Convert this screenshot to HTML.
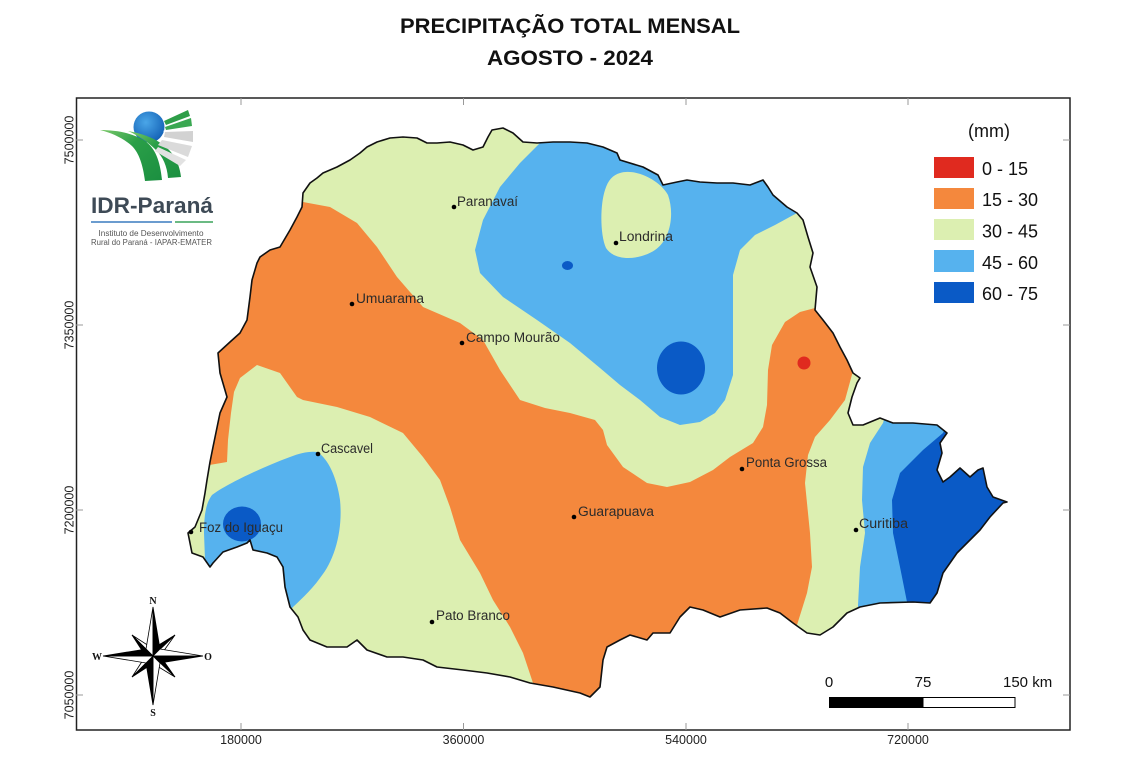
<!DOCTYPE html>
<html><head><meta charset="utf-8">
<style>html,body{margin:0;padding:0;background:#fff}svg{display:block}</style>
</head><body>
<svg width="1140" height="760" viewBox="0 0 1140 760" xmlns="http://www.w3.org/2000/svg" font-family="'Liberation Sans', sans-serif">
<defs>
<clipPath id="st">
<path id="statep" d="M218,353 L230,342 L240,333 L247,320 L250,297 L252,280 L257,263 L260,257 L270,250 L280,247 L290,230 L297,217 L302,207 L303,193 L310,183 L317,178 L323,173 L337,167 L350,160 L360,153 L367,147 L377,142 L390,138 L403,137 L417,138 L427,143 L437,143 L450,142 L463,145 L473,150 L483,147 L488,137 L492,130 L503,128 L513,133 L523,142 L537,143 L553,142 L570,142 L587,143 L603,147 L617,153 L620,160 L643,167 L658,175 L663,185 L677,182 L687,180 L700,182 L717,183 L733,183 L750,185 L763,180 L768,187 L773,195 L787,207 L797,213 L803,220 L808,237 L813,253 L810,267 L817,287 L815,310 L823,320 L833,333 L840,347 L847,360 L853,373 L860,378 L857,383 L852,397 L848,413 L853,425 L863,425 L880,418 L893,423 L913,423 L937,425 L947,433 L940,443 L942,453 L937,470 L943,482 L950,477 L960,468 L970,477 L978,470 L983,468 L987,487 L993,497 L1007,502 L1003,503 L990,517 L980,530 L970,540 L957,553 L943,573 L937,593 L930,603 L913,602 L880,603 L860,607 L847,613 L833,627 L820,635 L807,633 L793,623 L780,613 L767,608 L740,610 L720,617 L703,610 L690,607 L680,617 L670,633 L653,633 L647,640 L630,635 L620,640 L607,647 L603,660 L600,687 L590,697 L580,693 L553,687 L530,683 L510,677 L487,673 L463,670 L437,667 L423,660 L403,657 L387,657 L367,650 L357,640 L347,647 L327,647 L310,640 L303,630 L298,617 L290,607 L285,587 L283,567 L277,557 L267,553 L253,550 L250,540 L247,543 L237,547 L223,552 L213,563 L210,567 L203,557 L192,553 L190,543 L188,533 L195,527 L202,510 L205,493 L207,480 L210,462 L213,447 L220,413 L227,397 L220,373 Z"/>
</clipPath>
<radialGradient id="bg1" cx="0.4" cy="0.35" r="0.7">
<stop offset="0" stop-color="#4aa6e8"/><stop offset="1" stop-color="#1260b4"/>
</radialGradient>
<linearGradient id="gA" x1="0" y1="0" x2="1" y2="1">
<stop offset="0" stop-color="#7cc96a"/><stop offset="0.4" stop-color="#2a9f48"/><stop offset="1" stop-color="#1b8f40"/>
</linearGradient>
</defs>

<!-- Title -->
<text x="570" y="33" text-anchor="middle" font-size="21" font-weight="bold" fill="#111" textLength="340" lengthAdjust="spacingAndGlyphs">PRECIPITAÇÃO TOTAL MENSAL</text>
<text x="570" y="65" text-anchor="middle" font-size="21" font-weight="bold" fill="#111" textLength="166" lengthAdjust="spacingAndGlyphs">AGOSTO - 2024</text>

<!-- Map regions -->
<g clip-path="url(#st)">
<rect x="150" y="100" width="900" height="620" fill="#dcefb1"/>
<path fill="#f4883d" d="M180,190 L290,195 L303,202 L330,207 L357,223 L377,247 L397,277 L423,307 L460,323 L483,340 L500,370 L520,400 L545,408 L570,413 L595,420 L603,430 L607,445 L623,467 L647,483 L667,487 L690,482 L713,470 L730,457 L753,443 L763,427 L767,405 L768,370 L772,345 L785,322 L800,312 L815,308 L840,290 L880,330 L870,360 L853,371 L845,400 L830,420 L815,437 L808,455 L805,483 L810,533 L812,567 L807,593 L797,625 L790,700 L530,720 L533,683 L523,653 L510,627 L493,600 L480,573 L460,540 L450,507 L440,480 L423,457 L403,433 L370,417 L337,407 L303,400 L297,397 L280,373 L257,365 L240,378 L234,392 L231,413 L228,440 L227,462 L180,470 Z"/>
<path fill="#56b2ee" d="M545,110 L540,143 L520,163 L500,187 L483,220 L475,250 L480,273 L503,297 L537,320 L570,343 L600,368 L620,385 L640,400 L660,417 L680,425 L700,422 L715,413 L725,400 L733,375 L733,320 L733,275 L740,250 L755,235 L775,225 L797,213 L830,190 L830,110 Z"/>
<path fill="#dcefb1" d="M620,173 C635,168 660,180 668,195 C675,215 670,240 655,250 C640,260 615,262 606,248 C600,235 600,205 605,190 C608,180 613,175 620,173 Z"/>
<path fill="#56b2ee" d="M317,452 C328,458 337,478 340,500 C343,530 335,560 320,578 C310,592 298,602 290,610 L250,640 L200,600 L205,560 L204,533 C204,515 206,503 212,495 C225,485 260,468 290,457 C300,453 310,451 317,452 Z"/>
<path fill="#56b2ee" d="M890,400 L883,423 L870,443 L863,467 L862,500 L865,533 L860,567 L858,605 L858,650 L1050,650 L1050,400 Z"/>
<path fill="#0a5ac6" d="M955,405 L943,433 L923,450 L900,473 L892,500 L893,533 L900,567 L907,602 L907,650 L1050,650 L1050,405 Z"/>
<ellipse cx="681" cy="368" rx="24" ry="26.5" fill="#0a5ac6"/>
<ellipse cx="567.5" cy="265.5" rx="5.5" ry="4.5" fill="#0a5ac6"/>
<ellipse cx="242" cy="524" rx="19" ry="17.5" fill="#0a5ac6"/>
<circle cx="804" cy="363" r="6.5" fill="#e02a1f"/>
</g>
<use href="#statep" fill="none" stroke="#111" stroke-width="1.6" stroke-linejoin="round"/>

<!-- Cities -->
<g fill="#000">
<circle cx="454" cy="207" r="2.3"/><circle cx="352" cy="304" r="2.3"/><circle cx="462" cy="343" r="2.3"/>
<circle cx="616" cy="243" r="2.3"/><circle cx="318" cy="454" r="2.3"/><circle cx="191" cy="532" r="2.3"/>
<circle cx="432" cy="622" r="2.3"/><circle cx="574" cy="517" r="2.3"/><circle cx="742" cy="469" r="2.3"/>
<circle cx="856" cy="530" r="2.3"/>
</g>
<g font-size="13.5" fill="#2b2b2b">
<text x="457" y="206" textLength="61" lengthAdjust="spacingAndGlyphs">Paranavaí</text>
<text x="356" y="303" textLength="68" lengthAdjust="spacingAndGlyphs">Umuarama</text>
<text x="466" y="342" textLength="94" lengthAdjust="spacingAndGlyphs">Campo Mourão</text>
<text x="619" y="241" textLength="54" lengthAdjust="spacingAndGlyphs">Londrina</text>
<text x="321" y="453" textLength="52" lengthAdjust="spacingAndGlyphs">Cascavel</text>
<text x="199" y="532" textLength="84" lengthAdjust="spacingAndGlyphs">Foz do Iguaçu</text>
<text x="436" y="620" textLength="74" lengthAdjust="spacingAndGlyphs">Pato Branco</text>
<text x="578" y="516" textLength="76" lengthAdjust="spacingAndGlyphs">Guarapuava</text>
<text x="746" y="467" textLength="81" lengthAdjust="spacingAndGlyphs">Ponta Grossa</text>
<text x="859" y="528" textLength="49" lengthAdjust="spacingAndGlyphs">Curitiba</text>
</g>

<!-- Frame -->
<rect x="76.5" y="98" width="993.5" height="632" fill="none" stroke="#222" stroke-width="1.5"/>
<g stroke="#999" stroke-width="1">
<line x1="241" y1="98" x2="241" y2="105"/><line x1="463.5" y1="98" x2="463.5" y2="105"/><line x1="686" y1="98" x2="686" y2="105"/><line x1="908" y1="98" x2="908" y2="105"/>
<line x1="241" y1="730" x2="241" y2="723"/><line x1="463.5" y1="730" x2="463.5" y2="723"/><line x1="686" y1="730" x2="686" y2="723"/><line x1="908" y1="730" x2="908" y2="723"/>
<line x1="76" y1="140" x2="83" y2="140"/><line x1="76" y1="325" x2="83" y2="325"/><line x1="76" y1="510" x2="83" y2="510"/><line x1="76" y1="695" x2="83" y2="695"/>
<line x1="1070" y1="140" x2="1063" y2="140"/><line x1="1070" y1="325" x2="1063" y2="325"/><line x1="1070" y1="510" x2="1063" y2="510"/><line x1="1070" y1="695" x2="1063" y2="695"/>
</g>
<g font-size="12.5" fill="#222" text-anchor="middle">
<text x="241" y="744">180000</text><text x="463.5" y="744">360000</text><text x="686" y="744">540000</text><text x="908" y="744">720000</text>
<text transform="translate(73.5,140) rotate(-90)">7500000</text>
<text transform="translate(73.5,325) rotate(-90)">7350000</text>
<text transform="translate(73.5,510) rotate(-90)">7200000</text>
<text transform="translate(73.5,695) rotate(-90)">7050000</text>
</g>

<!-- Legend -->
<text x="989" y="137" text-anchor="middle" font-size="18" fill="#111">(mm)</text>
<rect x="934" y="157" width="40" height="21" fill="#e02a1f"/>
<rect x="934" y="188" width="40" height="21" fill="#f4883d"/>
<rect x="934" y="219" width="40" height="21" fill="#dcefb1"/>
<rect x="934" y="250" width="40" height="22" fill="#56b2ee"/>
<rect x="934" y="282" width="40" height="21" fill="#0a5ac6"/>
<g font-size="18" fill="#111">
<text x="982" y="175">0 - 15</text>
<text x="982" y="206">15 - 30</text>
<text x="982" y="237.5">30 - 45</text>
<text x="982" y="269">45 - 60</text>
<text x="982" y="300">60 - 75</text>
</g>

<!-- Scale bar -->
<rect x="829" y="697" width="94" height="11" fill="#000"/>
<rect x="923" y="697.5" width="92" height="10" fill="#fff" stroke="#000" stroke-width="1"/>
<g font-size="15" fill="#111">
<text x="829" y="687" text-anchor="middle">0</text>
<text x="923" y="687" text-anchor="middle">75</text>
<text x="1003" y="687">150 km</text>
</g>

<!-- Compass rose -->
<g stroke="#000" stroke-width="0.8" stroke-linejoin="miter">
<polygon points="132,635 153,656 149,646" fill="#fff"/><polygon points="132,635 153,656 143,652" fill="#000"/>
<polygon points="175,635 153,656 163,652" fill="#fff"/><polygon points="175,635 153,656 157,646" fill="#000"/>
<polygon points="175,677 153,656 157,666" fill="#fff"/><polygon points="175,677 153,656 163,660" fill="#000"/>
<polygon points="132,677 153,656 143,660" fill="#fff"/><polygon points="132,677 153,656 149,666" fill="#000"/>
<polygon points="153,607 153,656 146,649" fill="#fff"/><polygon points="153,607 153,656 160,649" fill="#000"/>
<polygon points="203,656 153,656 160,649" fill="#fff"/><polygon points="203,656 153,656 160,663" fill="#000"/>
<polygon points="153,705 153,656 160,663" fill="#fff"/><polygon points="153,705 153,656 146,663" fill="#000"/>
<polygon points="103,656 153,656 146,663" fill="#fff"/><polygon points="103,656 153,656 146,649" fill="#000"/>
</g>
<g font-family="'Liberation Serif', serif" font-size="10" font-weight="bold" fill="#111" text-anchor="middle">
<text x="153" y="604">N</text><text x="153" y="716">S</text><text x="97" y="660">W</text><text x="208" y="660">O</text>
</g>

<!-- Logo -->
<g>
<circle cx="149" cy="127" r="15.5" fill="url(#bg1)"/>
<path d="M100,130 C116,130 133,133 145,141 C155,148 160,160 162,180 L145,181 C143,165 139,153 132,146 C123,138 112,133 100,130 Z" fill="url(#gA)"/>
<path d="M128,131 C145,134 160,140 170,151 C177,159 180,168 181,177 L168,178 C167,166 163,157 156,150 C148,142 139,136 128,131 Z" fill="url(#gA)"/>
<path d="M163,131 C170,128 175,127 170,135 Z" fill="#fff"/>
<path d="M164,121 L188,110 L190,116 L166,125 Z" fill="#2e9e48"/>
<path d="M165,127 L191,118 L192,126 L166,130 Z" fill="#3aa852"/>
<path d="M165,132 L193,131 L193,142 L164,137 Z" fill="#d2d2d2"/>
<path d="M162,140 L192,146 L188,157 L158,145 Z" fill="#dadada"/>
<path d="M158,147 L186,160 L180,166 L155,151 Z" fill="#e2e2e2"/>
<text x="91" y="213" font-size="22" font-weight="bold" fill="#3e4a56" textLength="122" lengthAdjust="spacingAndGlyphs">IDR-Paraná</text>
<line x1="91" y1="222" x2="172" y2="222" stroke="#3a7bbf" stroke-width="1.5"/>
<line x1="175" y1="222" x2="213" y2="222" stroke="#3aa35a" stroke-width="1.5"/>
<text x="151" y="236" font-size="8" fill="#555" text-anchor="middle" textLength="105" lengthAdjust="spacingAndGlyphs">Instituto de Desenvolvimento</text>
<text x="91" y="245" font-size="8" fill="#555" textLength="121" lengthAdjust="spacingAndGlyphs">Rural do Paraná - IAPAR-EMATER</text>
</g>
</svg>
</body></html>
